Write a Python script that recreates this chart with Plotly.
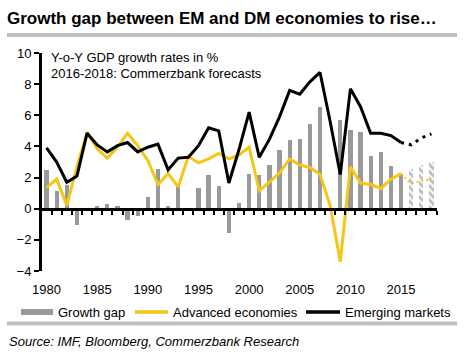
import plotly.graph_objects as go

years = list(range(1980, 2019))
emerging = [3.9, 3.0, 1.7, 2.1, 4.85, 4.1, 3.65, 4.05, 4.25, 3.65,
            3.95, 4.15, 2.5, 3.25, 3.3, 4.05, 5.2, 5.0, 1.65, 3.8,
            6.2, 3.3, 4.45, 5.9, 7.6, 7.35, 8.15, 8.75, 5.6, 2.2,
            7.7, 6.55, 4.85, 4.85, 4.7, 4.25, 4.1, 4.55, 4.8]
advanced = [1.35, 1.9, 0.2, 2.7, 4.9, 3.85, 3.25, 3.95, 4.85, 4.05,
            3.1, 1.55, 2.25, 1.4, 3.35, 2.95, 3.2, 3.55, 3.2, 3.45,
            3.95, 1.15, 1.7, 2.3, 3.2, 2.8, 2.65, 2.2, 0.2, -3.4,
            2.7, 1.65, 1.55, 1.3, 1.9, 2.25, 1.6, 1.8, 1.9]
gap = [2.5, 1.15, 1.5, -1.05, 0.0, 0.2, 0.32, 0.2, -0.7, -0.48,
       0.78, 2.55, 0.2, 1.5, 0.0, 1.3, 2.15, 1.45, -1.55, 0.35,
       2.2, 2.15, 2.8, 3.75, 4.4, 4.5, 5.45, 6.55, None, 5.7,
       5.05, 4.95, 3.37, 3.62, 2.74, 2.2, 2.55, 2.8, 3.0]
forecast_start = 2016
x_tick_labels = [1980, 1985, 1990, 1995, 2000, 2005, 2010, 2015]
y_ticks = [-4, -2, 0, 2, 4, 6, 8, 10]

FONT = "Arial, Liberation Sans, sans-serif"
GRAY = "#999999"
YELLOW = "#F5C518"
RULE = "#BFBFBF"

W, H = 476, 354
L, R, T, B = 42, 39, 53, 83
PW, PH = W - L - R, H - T - B
YMIN, YMAX = -4, 10
XMIN, XMAX = 1979.55, 2018.55


def px(x):
    return (x - L) / PW


def py(y):
    return (H - B - y) / PH


i_fc = years.index(forecast_start)
i_last = i_fc - 1

fig = go.Figure()
fig.add_trace(go.Bar(x=years[:i_fc], y=gap[:i_fc], marker_color=GRAY,
                     marker_line_width=0, width=0.42, showlegend=False,
                     name="Growth gap"))
fig.add_trace(go.Bar(x=years[i_fc:], y=gap[i_fc:], marker=dict(
    color="white", line_width=0,
    pattern=dict(shape="\\", fgcolor="#7f7f7f", bgcolor="white", size=5, solidity=0.6)),
    width=0.42, showlegend=False, name="Growth gap (forecast)"))
fig.add_trace(go.Scatter(x=years[:i_fc], y=advanced[:i_fc], mode="lines",
                         line=dict(color=YELLOW, width=3), showlegend=False,
                         name="Advanced economies"))
fig.add_trace(go.Scatter(x=years[i_last:], y=advanced[i_last:], mode="lines",
                         line=dict(color=YELLOW, width=2, dash="2px,3px"), showlegend=False))
fig.add_trace(go.Scatter(x=years[:i_fc], y=emerging[:i_fc], mode="lines",
                         line=dict(color="black", width=3), showlegend=False,
                         name="Emerging markets"))
fig.add_trace(go.Scatter(x=years[i_last:], y=emerging[i_last:], mode="lines",
                         line=dict(color="black", width=3, dash="3px,5px"), showlegend=False))

zero_pos = (0 - YMIN) / (YMAX - YMIN)

fig.update_layout(
    width=W, height=H,
    margin=dict(l=L, r=R, t=T, b=B),
    paper_bgcolor="white", plot_bgcolor="white",
    font=dict(family=FONT, size=13, color="black"),
    bargap=0,
    xaxis=dict(range=[XMIN, XMAX], anchor="free", position=zero_pos,
               tickvals=[y + 0.5 for y in years[:-1]] + [XMAX - 0.01],
               showticklabels=False, ticks="outside", ticklen=4, tickwidth=2,
               tickcolor="black", showline=True, linecolor="black", linewidth=3,
               showgrid=False, zeroline=False),
    xaxis2=dict(range=[XMIN, XMAX], overlaying="x", anchor="y", side="bottom",
                tickvals=x_tick_labels, ticktext=[str(v) for v in x_tick_labels],
                ticks="outside", ticklen=6, tickcolor="rgba(0,0,0,0)",
                showline=False, showgrid=False, zeroline=False,
                tickfont=dict(size=13)),
    yaxis=dict(range=[YMIN, YMAX], tickvals=y_ticks, ticks="outside", ticklen=5,
               tickwidth=2, tickcolor="black", showline=True, linecolor="black",
               linewidth=3, showgrid=False, zeroline=False, tickfont=dict(size=13)),
    title=dict(text="<b>Growth gap between EM and DM economies to rise…</b>",
               xref="container", yref="container", x=7 / W, xanchor="left",
               y=1 - 18 / H, yanchor="middle",
               font=dict(family=FONT, size=17, color="black")),
)

# dummy trace so the label axis exists
fig.add_trace(go.Scatter(x=[years[0]], y=[None], xaxis="x2", yaxis="y",
                         showlegend=False, hoverinfo="skip"))

shapes = [
    dict(type="line", xref="paper", yref="paper", x0=px(7), x1=px(457),
         y0=py(35), y1=py(35), line=dict(color=RULE, width=4)),
    dict(type="line", xref="paper", yref="paper", x0=px(7), x1=px(457),
         y0=py(323.5), y1=py(323.5), line=dict(color=RULE, width=4)),
    # legend symbols
    dict(type="rect", xref="paper", yref="paper", x0=px(21), x1=px(53),
         y0=py(315), y1=py(309), fillcolor=GRAY, line=dict(width=0)),
    dict(type="line", xref="paper", yref="paper", x0=px(135), x1=px(168),
         y0=py(312), y1=py(312), line=dict(color=YELLOW, width=3.5)),
    dict(type="line", xref="paper", yref="paper", x0=px(306), x1=px(340),
         y0=py(312), y1=py(312), line=dict(color="black", width=3.5)),
]
fig.update_layout(shapes=shapes)

ann = []
for text, x in [("Growth gap", 56), ("Advanced economies", 171), ("Emerging markets", 343)]:
    ann.append(dict(text=text, xref="paper", yref="paper", x=px(x), y=py(312),
                    xanchor="left", yanchor="middle", showarrow=False,
                    font=dict(size=13, color="black")))
ann.append(dict(text="<i>Source: IMF, Bloomberg, Commerzbank Research</i>",
                xref="paper", yref="paper", x=px(7), y=py(341), xanchor="left",
                yanchor="middle", showarrow=False, font=dict(size=13, color="black")))
ann.append(dict(text="Y-o-Y GDP growth rates in %", xref="paper", yref="paper",
                x=px(49), y=py(58), xanchor="left", yanchor="middle", showarrow=False,
                font=dict(size=13, color="black")))
ann.append(dict(text="2016-2018: Commerzbank forecasts", xref="paper", yref="paper",
                x=px(49), y=py(73), xanchor="left", yanchor="middle", showarrow=False,
                font=dict(size=13, color="black")))
fig.update_layout(annotations=ann)

fig.write_html("out.html")
